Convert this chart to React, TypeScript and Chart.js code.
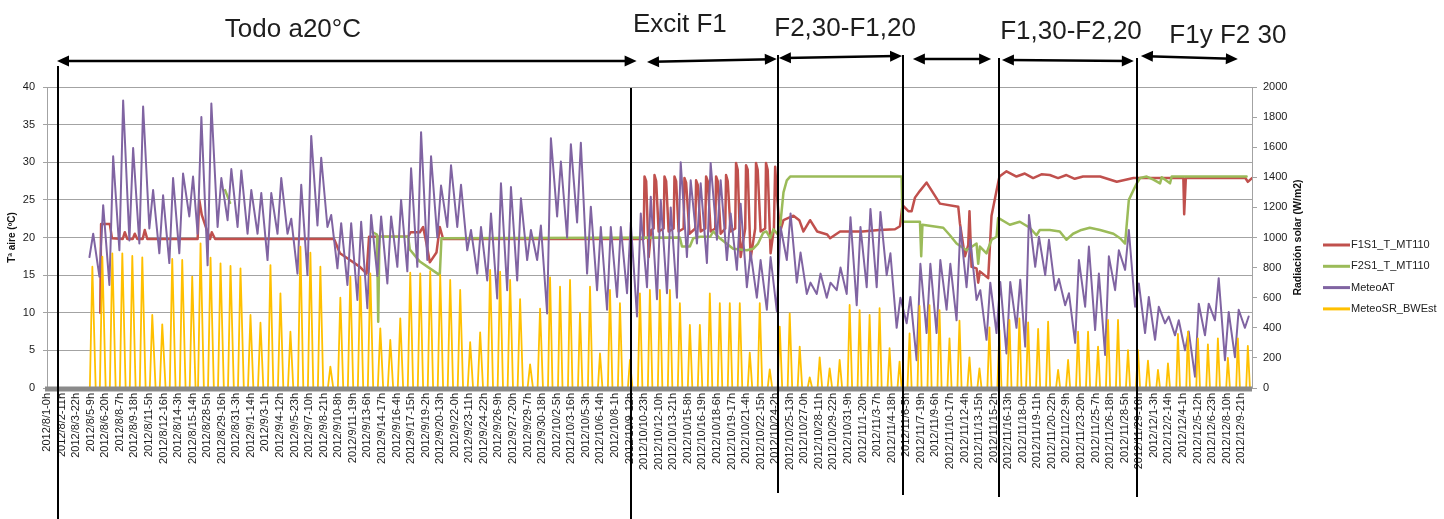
import React, { useEffect, useRef } from 'react';
import { Chart, registerables } from 'chart.js';

Chart.register(...registerables);

// ---------- axis / category data ----------
const X_TICK_LABELS = [
  '2012/8/1-0h', '2012/8/2-11h', '2012/8/3-22h', '2012/8/5-9h', '2012/8/6-20h', '2012/8/8-7h', '2012/8/9-18h', '2012/8/11-5h', '2012/8/12-16h', '2012/8/14-3h',
  '2012/8/15-14h', '2012/8/28-5h', '2012/8/29-16h', '2012/8/31-3h', '2012/9/1-14h', '2012/9/3-1h', '2012/9/4-12h', '2012/9/5-23h', '2012/9/7-10h', '2012/9/8-21h',
  '2012/9/10-8h', '2012/9/11-19h', '2012/9/13-6h', '2012/9/14-17h', '2012/9/16-4h', '2012/9/17-15h', '2012/9/19-2h', '2012/9/20-13h', '2012/9/22-0h', '2012/9/23-11h',
  '2012/9/24-22h', '2012/9/26-9h', '2012/9/27-20h', '2012/9/29-7h', '2012/9/30-18h', '2012/10/2-5h', '2012/10/3-16h', '2012/10/5-3h', '2012/10/6-14h', '2012/10/8-1h',
  '2012/10/9-12h', '2012/10/10-23h', '2012/10/12-10h', '2012/10/13-21h', '2012/10/15-8h', '2012/10/16-19h', '2012/10/18-6h', '2012/10/19-17h', '2012/10/21-4h', '2012/10/22-15h',
  '2012/10/24-2h', '2012/10/25-13h', '2012/10/27-0h', '2012/10/28-11h', '2012/10/29-22h', '2012/10/31-9h', '2012/11/1-20h', '2012/11/3-7h', '2012/11/4-18h', '2012/11/6-5h',
  '2012/11/7-19h', '2012/11/9-6h', '2012/11/10-17h', '2012/11/12-4h', '2012/11/13-15h', '2012/11/15-2h', '2012/11/16-13h', '2012/11/18-0h', '2012/11/19-11h', '2012/11/20-22h',
  '2012/11/22-9h', '2012/11/23-20h', '2012/11/25-7h', '2012/11/26-18h', '2012/11/28-5h', '2012/11/29-16h', '2012/12/1-3h', '2012/12/2-14h', '2012/12/4-1h', '2012/12/5-12h',
  '2012/12/6-23h', '2012/12/8-10h', '2012/12/9-21h',
];
const TICK_STEP = 35; // hourly rows between category labels
const ROW_MAX = 2896; // last hourly row

// days present in the record (two continuous periods)
const DAY_RANGES: [string, string][] = [
  ['2012-08-05', '2012-08-15'],
  ['2012-08-27', '2012-12-10'],
];

// ---------- series data ----------
// MeteoSR_BWEst: daily peak solar radiation (W/m2)
const SR_PEAK = [
  806, 873, 895, 895, 877, 868, 485, 423, 857, 851, 740,
  961, 866, 828, 811, 795,
  485, 434, 817, 629, 374, 939, 899, 806, 142, 600, 740, 740, 762, 396, 319, 463, 766, 762, 777, 751, 718, 651, 304, 370, 784, 773, 718, 591, 157, 527,
  735, 673, 718, 501, 673, 230, 651, 563, 186, 629, 651, 651, 651, 563, 419, 419, 629, 563, 563, 563, 235, 563, 124, 408, 496, 275, 71, 204, 131, 186, 552,
  518, 485, 530, 264, 175, 363, 545, 551, 518, 330, 447, 204, 131, 403, 385, 452, 463, 436, 392, 441, 120, 186, 374, 374, 275, 452, 452, 252, 252, 182,
  120, 164, 359, 374, 330, 290, 330, 200, 330, 280,
];
// MeteoAT: daily minimum / maximum air temperature (ºC)
const AT_MIN = [
  17.4, 14.8, 13.7, 18.3, 19.6, 19.2, 21.2, 17.9, 16.6, 17.9, 22.8,
  20.5, 16.3, 21.4, 22.3, 21.4,
  20.5, 20.5, 17, 20.5, 20.5, 15.2, 15, 21.6, 21.4, 15.9, 13.7, 11.7, 10.6, 14.9, 13.9, 16.1, 15.5, 16.1, 17, 20, 21.4, 21.4, 18.3, 15.2, 14.3, 11.9, 13, 14.3, 17, 17,
  9.9, 22.8, 20, 22, 15.2, 13, 10.4, 12.1, 12.6, 9.5, 13.4, 11.8, 12.6, 12, 17.4, 19.2, 16.6, 19.7, 17, 15.7, 13.4, 12, 10.4, 10.2, 17, 14, 12.5, 12.5, 12, 13, 12.5,
  11, 13.4, 13.4, 15, 8, 8.6, 3.7, 7.3, 7.3, 10.4, 9, 13.4, 11.7, 6.4, 7.3, 4.6, 8, 5.5, 16.1, 15, 13, 11, 6, 10.8, 7.7, 4.4, 13, 15.7, 10.8, 7.3,
  6.4, 8.6, 7, 5, 1.5, 7, 9, 3.7, 4.1, 8,
];
const AT_MAX = [
  20.5, 24.3, 30.8, 38.2, 31.9, 37.4, 26.3, 25.6, 27.9, 28.5, 28.1,
  36, 37.8, 27.9, 29.1, 28.9,
  26.3, 25.9, 25.9, 27.9, 22.5, 27, 33.5, 30.6, 23, 21.9, 21.9, 22.1, 23, 22.8, 22.8, 25, 29.2, 34, 30.8, 26.9, 29.6, 27, 21, 21.4, 23.2, 27.2, 26.7, 25.2, 21, 21.6,
  33.2, 30.1, 32.4, 32.6, 24.1, 21.4, 21.4, 21.4, 22, 23.2, 25.4, 25, 24, 30, 27.6, 27.2, 29.9, 27.6, 23.2, 24.5, 18, 17, 17.4, 21.4, 23.2, 18, 14, 15.2, 14, 16, 22.7,
  21.4, 23.8, 23.4, 17.9, 12, 12.1, 16.5, 16.5, 17, 16.5, 21.4, 19.7, 13, 14, 14.1, 14.1, 14.4, 23, 20.1, 19.7, 14.5, 12.6, 17, 18.8, 15.2, 17.5, 18.3, 21, 13.9, 12.1,
  10.8, 9.5, 9, 7.5, 11.2, 11.2, 14.6, 10.1, 10.4, 9.5,
];
// F1S1_T_MT110: [hourly row, ºC]
const F1_POINTS: [number, number][] = [
  [128, 10], [130, 21.8], [151, 21.8], [156, 19.9], [182, 19.8], [187, 20.7], [193, 19.8], [206, 19.8], [211, 20.5], [217, 19.8],
  [230, 19.8], [235, 21], [241, 19.8], [362, 19.8], [366, 25], [372, 23], [384, 21], [392, 19.8], [396, 20.7], [404, 19.8],
  [690, 19.8], [704, 17.9], [728, 17], [752, 16.1], [768, 15.2], [774, 20.1], [868, 20.1], [874, 20.7], [896, 20.7], [904, 21.4],
  [912, 19.2], [920, 16.7], [936, 18], [944, 21.4], [952, 19.8], [1434, 19.8],
  [1436, 28.1], [1440, 27.5], [1446, 17.4], [1452, 21], [1458, 21.2],
  [1460, 28.3], [1464, 27.5], [1470, 20.8], [1482, 21.2], [1484, 28.1], [1488, 27.5], [1494, 20.8], [1506, 21.2],
  [1508, 28.1], [1512, 27.5], [1518, 20.8], [1530, 21.2], [1532, 27.9], [1536, 27.3], [1544, 20.5], [1558, 21.2],
  [1560, 27.6], [1564, 27], [1571, 20.8], [1582, 21.2], [1584, 28.1], [1588, 27.5], [1595, 20.8], [1606, 21.2],
  [1608, 28.1], [1612, 27.5], [1619, 20.5], [1630, 21.2], [1632, 28.3], [1636, 27.5], [1643, 20.8], [1654, 21.2],
  [1656, 29.9], [1660, 29], [1667, 17.4], [1678, 21.2], [1680, 29.6], [1684, 29], [1691, 17.2], [1702, 21.2],
  [1704, 29.9], [1708, 29], [1715, 20.8], [1726, 21.2], [1728, 29.9], [1732, 29], [1739, 17.9], [1747, 21.2],
  [1750, 29.4], [1754, 26], [1760, 21.5],
  [1762, 20.8], [1770, 22.3], [1794, 22.9], [1808, 22.3], [1818, 20.8], [1834, 22.3], [1851, 20.8], [1875, 20.4], [1882, 19.9], [1906, 20.8],
  [1960, 20.8], [2000, 21], [2038, 21.1], [2050, 21.5], [2056, 24.3], [2070, 23.5], [2078, 23.5], [2086, 25.3], [2098, 26.2], [2114, 27.3],
  [2130, 25.9], [2146, 24.5], [2190, 24.1], [2194, 21.9], [2206, 17.5], [2214, 19], [2217, 23.5], [2222, 16.1], [2234, 15.9], [2238, 14],
  [2242, 15.5], [2262, 14.6], [2270, 22.9], [2282, 26.2], [2289, 28.1], [2306, 28.8], [2330, 28.1], [2350, 28.5], [2370, 27.9], [2390, 28.4],
  [2410, 28.3], [2430, 27.9], [2450, 28.3], [2470, 27.8], [2490, 28.1], [2531, 28.1], [2571, 27.4], [2611, 27.9], [2731, 27.9], [2733, 23.1],
  [2737, 27.9], [2880, 27.9], [2886, 27.4], [2896, 27.9],
];
// F2S1_T_MT110: [hourly row, ºC] (null = no record)
const F2_POINTS: [number, number | null][] = [
  [428, 26.3], [440, 24.6], [441, null],
  [783, 20.7], [793, 20.4], [796, 8.8], [799, 20.1], [868, 20.1], [872, 18.4], [896, 16.8], [920, 15.9], [944, 15], [948, 19.9],
  [1521, 20], [1526, 18.8], [1545, 18.8], [1553, 19.9], [1570, 20.1], [1594, 20.1], [1601, 20.8], [1617, 19.9], [1649, 18.5], [1682, 18.3],
  [1697, 18.5], [1709, 19.2], [1721, 20.6], [1729, 20.8], [1738, 19.9], [1746, 21.1], [1758, 20.3], [1762, 21.5], [1770, 26], [1778, 27.6],
  [1786, 28.1], [2054, 28.1], [2056, 22.1], [2098, 22.1], [2101, 17.5], [2104, 21.7], [2154, 21.3], [2170, 20.3], [2186, 19.2], [2210, 18.3],
  [2234, 19.2], [2238, 16.5], [2242, 18.8], [2258, 17.9], [2270, 19.7], [2282, 20.1], [2286, 22.6], [2314, 21.7], [2338, 22.1], [2362, 21.3],
  [2378, 20.3], [2386, 21], [2410, 21], [2434, 20.8], [2450, 19.7], [2466, 20.5], [2486, 21], [2506, 21.3], [2531, 21], [2563, 20.5],
  [2579, 19.9], [2591, 19.2], [2600, 25], [2619, 27.2], [2627, 27.9], [2643, 28.1], [2659, 27.7], [2675, 27.2], [2679, 28], [2699, 27.2],
  [2703, 28.1], [2883, 28.1],
];

// sunrise / solar noon / sunset hour per month (radiation is zero at night)
const SUN_HOURS: Record<number, [number, number, number]> = {
  8: [7, 13, 21], 9: [7, 13, 20], 10: [8, 13, 19], 11: [8, 13, 18], 12: [9, 13, 18],
};

// ---------- annotation overlays ----------
const PHASE_LINES = [
  { row: 26, top: 66, bottom: 519 },
  { row: 1403, top: 88, bottom: 519 },
  { row: 1757, top: 55, bottom: 493 },
  { row: 2057, top: 55, bottom: 495 },
  { row: 2288, top: 58, bottom: 497 },
  { row: 2620, top: 58, bottom: 497 },
];
const PHASE_ARROWS = [
  { from: 24, to: 1417, y1: 61, y2: 61 },
  { from: 1442, to: 1754, y1: 62, y2: 59 },
  { from: 1759, to: 2055, y1: 58, y2: 56 },
  { from: 2081, to: 2269, y1: 59, y2: 59 },
  { from: 2295, to: 2612, y1: 60, y2: 61 },
  { from: 2629, to: 2862, y1: 56, y2: 59 },
];
const PHASE_LABELS = [
  { text: 'Todo a20°C', row: 591, y: 37 },
  { text: 'Excit F1', row: 1521, y: 32 },
  { text: 'F2,30-F1,20', row: 1918, y: 36 },
  { text: 'F1,30-F2,20', row: 2461, y: 39 },
  { text: 'F1y F2 30', row: 2838, y: 43 },
];

const RED = '#C0504D';
const GREEN = '#9BBB59';
const PURPLE = '#8064A2';
const YELLOW = '#FFC000';
const GRID = '#a3a3a3';
const FONT = "'Liberation Sans', Arial, sans-serif";

const BASE = Date.UTC(2012, 7, 1);
function rowOf(m: number, d: number, h: number): number {
  let r = (Date.UTC(2012, m - 1, d) - BASE) / 3600000 + h;
  if (r >= 26 * 24 + 4) r -= 268; // record gap 8/16 - 8/27
  if (r >= 98 * 24) r -= 3; // 3 missing hours on 11/6-11/7
  return r;
}
function expandDays(): { m: number; d: number }[] {
  const out: { m: number; d: number }[] = [];
  for (const [a, b] of DAY_RANGES) {
    const end = Date.parse(b + 'T00:00:00Z');
    for (let t = Date.parse(a + 'T00:00:00Z'); t <= end; t += 86400000) {
      const dt = new Date(t);
      out.push({ m: dt.getUTCMonth() + 1, d: dt.getUTCDate() });
    }
  }
  return out;
}

function buildData() {
  const days = expandDays();
  const at: { x: number; y: number }[] = [];
  const sr: { x: number; y: number }[] = [];
  days.forEach((dd, k) => {
    at.push({ x: rowOf(dd.m, dd.d, 6), y: AT_MIN[k] });
    at.push({ x: rowOf(dd.m, dd.d, 15), y: AT_MAX[k] });
    const [r, p, s] = SUN_HOURS[dd.m];
    sr.push({ x: rowOf(dd.m, dd.d, r), y: 0 });
    sr.push({ x: rowOf(dd.m, dd.d, p), y: SR_PEAK[k] });
    sr.push({ x: rowOf(dd.m, dd.d, s), y: 0 });
  });
  const f1 = F1_POINTS.map(([x, y]) => ({ x, y }));
  const f2 = F2_POINTS.map(([x, y]) => ({ x, y }));
  return { at, sr, f1, f2 };
}

function arrowHead(ctx: CanvasRenderingContext2D, x: number, y: number, dir: number, slope: number) {
  const len = 12, half = 5.5;
  const ang = Math.atan(slope);
  ctx.save();
  ctx.translate(x, y);
  ctx.rotate(ang);
  ctx.beginPath();
  ctx.moveTo(0, 0);
  ctx.lineTo(-dir * len, -half);
  ctx.lineTo(-dir * len, half);
  ctx.closePath();
  ctx.fill();
  ctx.restore();
}

const overlayPlugin = {
  id: 'overlay',
  afterDatasetsDraw(chart: any) {
    const { ctx, chartArea: a } = chart;
    ctx.save();
    ctx.fillStyle = '#8a8a8a';
    ctx.fillRect(a.left - 2, a.bottom - 1.5, a.right - a.left + 2, 5);
    ctx.restore();
  },
  afterDraw(chart: any) {
    const { ctx, chartArea: a, scales } = chart;
    const xs = scales.x;
    ctx.save();
    // axis titles
    ctx.fillStyle = '#111';
    ctx.textAlign = 'center';
    ctx.textBaseline = 'middle';
    ctx.font = `bold 10px ${FONT}`;
    ctx.save();
    ctx.translate(12, (a.top + a.bottom) / 2);
    ctx.rotate(-Math.PI / 2);
    ctx.fillText('Tª aire (ºC)', 0, 0);
    ctx.restore();
    ctx.font = `bold 10.5px ${FONT}`;
    ctx.save();
    ctx.translate(1298, (a.top + a.bottom) / 2);
    ctx.rotate(-Math.PI / 2);
    ctx.fillText('Radiación solar (W/m2)', 0, 0);
    ctx.restore();

    // legend
    const ds = chart.data.datasets;
    ctx.font = `11px ${FONT}`;
    ctx.textAlign = 'left';
    ds.forEach((d: any, k: number) => {
      const y = 245 + k * 21.3;
      ctx.strokeStyle = d.borderColor;
      ctx.lineWidth = 3;
      ctx.beginPath();
      ctx.moveTo(1323, y);
      ctx.lineTo(1350, y);
      ctx.stroke();
      ctx.fillStyle = '#222';
      ctx.fillText(d.label, 1351, y);
    });

    // phase lines
    ctx.strokeStyle = '#000';
    ctx.fillStyle = '#000';
    ctx.lineWidth = 2;
    PHASE_LINES.forEach((l) => {
      const x = Math.round(xs.getPixelForValue(l.row));
      ctx.beginPath();
      ctx.moveTo(x, l.top);
      ctx.lineTo(x, l.bottom);
      ctx.stroke();
    });
    // arrows
    ctx.lineWidth = 2.5;
    PHASE_ARROWS.forEach((ar) => {
      const x1 = xs.getPixelForValue(ar.from);
      const x2 = xs.getPixelForValue(ar.to);
      const slope = (ar.y2 - ar.y1) / (x2 - x1);
      ctx.beginPath();
      ctx.moveTo(x1 + 6, ar.y1 + slope * 6);
      ctx.lineTo(x2 - 6, ar.y2 - slope * 6);
      ctx.stroke();
      arrowHead(ctx, x1, ar.y1, -1, slope);
      arrowHead(ctx, x2, ar.y2, 1, slope);
    });
    // labels
    ctx.font = `26px ${FONT}`;
    ctx.fillStyle = '#1e1e1e';
    ctx.textAlign = 'center';
    ctx.textBaseline = 'alphabetic';
    PHASE_LABELS.forEach((l) => {
      ctx.fillText(l.text, xs.getPixelForValue(l.row), l.y);
    });
    ctx.restore();
  },
};

export default function App() {
  const ref = useRef<HTMLCanvasElement>(null);
  useEffect(() => {
    const { at, sr, f1, f2 } = buildData();
    Chart.defaults.font.family = FONT;
    const chart = new Chart(ref.current as HTMLCanvasElement, {
      type: 'line',
      data: {
        datasets: [
          { label: 'F1S1_T_MT110', data: f1, borderColor: RED, backgroundColor: RED, borderWidth: 2.5, pointRadius: 0, yAxisID: 'y', order: 4 },
          { label: 'F2S1_T_MT110', data: f2, borderColor: GREEN, backgroundColor: GREEN, borderWidth: 2.5, pointRadius: 0, yAxisID: 'y', order: 3 },
          { label: 'MeteoAT', data: at, borderColor: PURPLE, backgroundColor: PURPLE, borderWidth: 2, pointRadius: 0, yAxisID: 'y', order: 2 },
          { label: 'MeteoSR_BWEst', data: sr, borderColor: YELLOW, backgroundColor: YELLOW, borderWidth: 1.8, pointRadius: 0, yAxisID: 'y1', order: 1 },
        ] as any,
      },
      options: {
        responsive: false,
        animation: false,
        devicePixelRatio: 1,
        layout: { padding: { top: 87, left: 0, right: 0, bottom: 0 } },
        elements: { line: { tension: 0, borderJoinStyle: 'round', borderCapStyle: 'round' } },
        plugins: { legend: { display: false }, tooltip: { enabled: false } },
        scales: {
          x: {
            type: 'linear',
            min: 0,
            max: ROW_MAX,
            grid: { display: false, drawTicks: false },
            border: { display: false },
            afterBuildTicks: (scale: any) => {
              scale.ticks = X_TICK_LABELS.map((_, k) => ({ value: k * TICK_STEP }));
            },
            afterFit: (scale: any) => { scale.height = 131; },
            ticks: {
              autoSkip: false,
              minRotation: 90,
              maxRotation: 90,
              padding: 5,
              color: '#1a1a1a',
              font: { size: 11, family: FONT },
              callback: (v: any) => X_TICK_LABELS[Math.round(Number(v) / TICK_STEP)] ?? '',
            },
          },
          y: {
            position: 'left',
            min: 0,
            max: 40,
            grid: { color: GRID, lineWidth: 1, tickLength: 4 },
            border: { color: GRID },
            afterFit: (scale: any) => { scale.width = 47; },
            ticks: { stepSize: 5, padding: 8, color: '#1a1a1a', font: { size: 11, family: FONT }, callback: (v: any) => String(v) },
          },
          y1: {
            position: 'right',
            min: 0,
            max: 2000,
            grid: { drawOnChartArea: false, color: GRID, tickLength: 5 },
            border: { color: GRID },
            afterFit: (scale: any) => { scale.width = 192; },
            ticks: { stepSize: 200, padding: 6, color: '#1a1a1a', font: { size: 11, family: FONT }, callback: (v: any) => String(v) },
          },
        },
      } as any,
      plugins: [overlayPlugin],
    });
    return () => chart.destroy();
  }, []);
  return (
    <div style={{ position: 'fixed', left: 0, top: 0, width: 1444, height: 519, background: '#fff' }}>
      <canvas ref={ref} width={1444} height={519} style={{ display: 'block', width: 1444, height: 519 }} />
    </div>
  );
}
